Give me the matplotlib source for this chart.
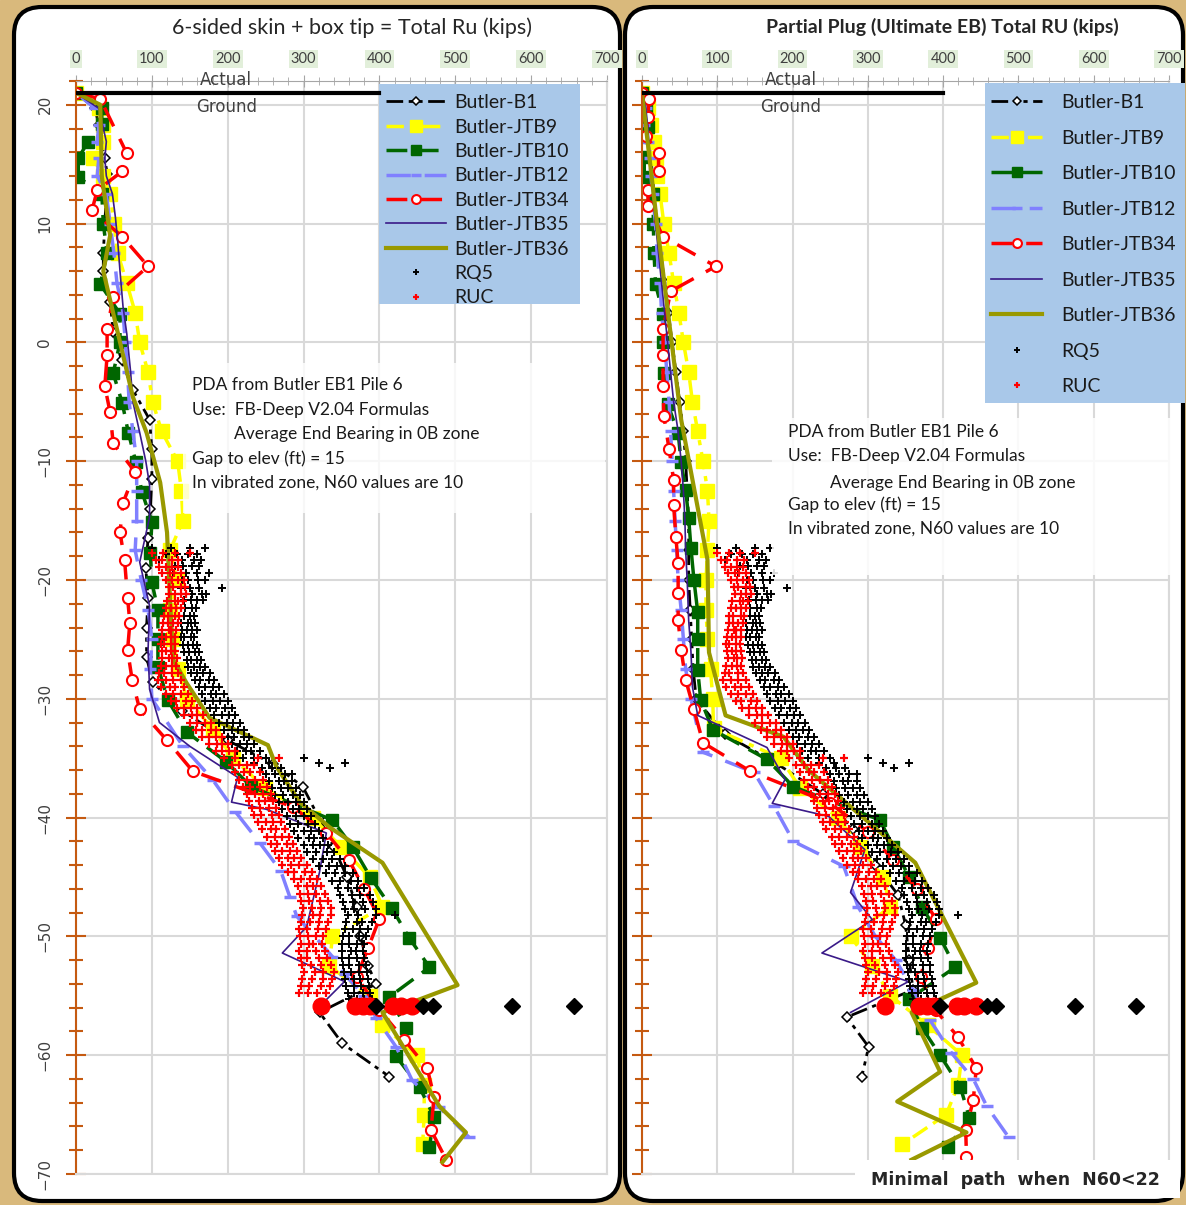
import matplotlib.pyplot as plt
from matplotlib.patches import FancyBboxPatch, Rectangle
from matplotlib.ticker import MultipleLocator

# ---- values: (elevation ft, total Ru kips) ----
ground = [(21, 0), (21, 400)]

# left panel: 6-sided skin + box tip
b1_left = [(21, 0), (19.7, 25), (18.3, 30), (16.9, 33), (15.5, 38), (14.2, 41), (12.5, 40), (10, 38),
           (7.5, 36), (6, 36), (3.4, 45), (0.9, 49), (-1.5, 60), (-4, 75), (-6.5, 97), (-9, 100),
           (-11.5, 100), (-14, 98), (-16.5, 95), (-19, 92), (-21.5, 95), (-24, 93), (-26.5, 93),
           (-28.6, 101), (-31, 140), (-33.5, 200), (-35.5, 260), (-37.4, 299), (-40, 320), (-42.5, 340),
           (-45, 357), (-47.5, 370), (-50, 375), (-52.5, 385), (-54, 396), (-56.4, 321), (-59, 351),
           (-61.8, 413)]
jtb9_left = [(21, 0), (19.7, 30), (18.3, 36), (16.9, 36), (15.5, 23), (14, 35), (12.5, 45), (10, 50),
             (7.5, 55), (5, 67), (2.5, 78), (0, 84), (-2.5, 95), (-5, 101), (-7.5, 113), (-10, 134),
             (-12.5, 139), (-15, 141), (-17.5, 124), (-20, 133), (-22.5, 124), (-25, 128), (-27.5, 135),
             (-30, 146), (-32.5, 180), (-35, 207), (-37.5, 249), (-40, 312), (-42.5, 350), (-45, 387),
             (-47.5, 404), (-50, 338), (-52.5, 334), (-55, 387), (-57.5, 404), (-60, 449), (-62.5, 459),
             (-65, 459), (-67.5, 457)]
jtb10_left = [(21, 0), (19.7, 34), (18.4, 34), (16.9, 16), (15.5, 3), (13.9, 3), (12.5, 34), (10, 36),
              (7.5, 41), (4.9, 32), (2.4, 58), (0, 58), (-2.6, 49), (-5.1, 61), (-7.6, 69), (-10.1, 79),
              (-12.6, 87), (-15.1, 100), (-17.7, 98), (-20.2, 100), (-22.5, 108), (-25, 108), (-27.3, 108),
              (-30.1, 121), (-32.8, 146), (-35.3, 198), (-37.4, 231), (-40.2, 338), (-42.5, 365),
              (-45.1, 389), (-47.6, 416), (-50.1, 439), (-52.6, 466), (-55.1, 413), (-57.7, 435),
              (-60.1, 422), (-62.7, 453), (-65.2, 472), (-67.7, 466)]
jtb12_left = [(21, 0), (19.7, 25), (18.3, 30), (16.9, 28), (15.5, 30), (14, 28), (12.5, 40), (10, 45),
              (7.5, 50), (5, 54), (2.5, 62), (0, 65), (-2.5, 68), (-5, 70), (-7.5, 75), (-10, 80),
              (-12.5, 80), (-15, 80), (-17.5, 78), (-20, 86), (-22.5, 95), (-25, 100), (-27.5, 98),
              (-30, 100), (-34, 141), (-36.8, 180), (-39.5, 210), (-42.1, 242), (-44.5, 270), (-46.7, 282),
              (-48.3, 291), (-51.7, 338), (-53.2, 354), (-55, 380), (-56.9, 396), (-59.3, 422),
              (-62.1, 443), (-64.4, 479), (-66.9, 518)]
jtb34_left = [(21, 0), (20.5, 32), (15.9, 67), (14.4, 61), (12.8, 28), (11.1, 21), (8.9, 61), (6.4, 95),
              (3.8, 49), (1.1, 41), (-1.1, 41), (-3.7, 38), (-5.9, 45), (-8.5, 49), (-10.9, 78),
              (-13.5, 62), (-16, 58), (-18.3, 64), (-21.5, 68), (-23.6, 71), (-25.9, 68), (-28.4, 74),
              (-30.9, 84), (-33.5, 120), (-36.1, 154), (-39.1, 286), (-41.3, 330), (-43.6, 360), (-46, 380),
              (-48.5, 400), (-51, 385), (-53.4, 370), (-56.2, 400), (-58.7, 433), (-61.1, 463),
              (-63.5, 472), (-66.3, 468), (-68.8, 488)]
jtb35_left = [(21, 0), (19.7, 30), (18.3, 35), (16.9, 40), (15.5, 38), (14, 40), (12.5, 48), (10.5, 52),
              (8.5, 55), (6, 58), (3, 62), (0.7, 67), (-2.5, 72), (-5, 75), (-7.6, 84), (-10, 92), (-12, 97),
              (-14.7, 97), (-18.5, 84), (-22.2, 97), (-25.9, 95), (-29.2, 97), (-32, 110), (-34, 150),
              (-36.6, 213), (-38.7, 205), (-39.3, 251), (-41.3, 330), (-44.6, 321), (-49.2, 304),
              (-51.4, 272), (-53.8, 354), (-55.9, 321)]
jtb36_left = [(21, 0), (20, 32), (14, 34), (9, 45), (6, 36), (-4.6, 75), (-7.6, 93), (-11.8, 111),
              (-16, 120), (-21.7, 124), (-26.7, 128), (-28.7, 146), (-31.6, 176), (-33.9, 253),
              (-35.7, 264), (-38.7, 295), (-40.8, 334), (-43.8, 404), (-54.1, 503), (-55.3, 453),
              (-56.4, 404), (-64.3, 479), (-66.5, 514), (-69, 483)]

# right panel: partial plug (ultimate end bearing)
b1_right = [(21, 0), (19.7, 5), (18.3, 8), (16.9, 10), (15.5, 12), (14, 14), (12.5, 16), (10, 20),
            (7.5, 25), (5, 30), (2.5, 35), (0, 40), (-2.5, 45), (-5, 50), (-7.5, 55), (-10, 58),
            (-12.5, 60), (-15, 62), (-17.5, 62), (-20, 62), (-22.5, 64), (-25, 66), (-27.5, 68),
            (-30, 72), (-33, 110), (-35.5, 180), (-38, 240), (-41, 280), (-44, 310), (-46.5, 340),
            (-49, 350), (-52, 355), (-54.5, 360), (-56.8, 272), (-59.3, 301), (-61.8, 292)]
jtb9_right = [(21, 0), (19.7, 8), (18.3, 12), (16.9, 16), (15.5, 18), (14, 20), (12.5, 24), (10, 29),
              (7.5, 36), (5, 42), (2.5, 49), (0, 55), (-2.5, 62), (-5, 67), (-7.5, 74), (-10, 81),
              (-12.5, 87), (-15, 89), (-17.5, 87), (-20, 85), (-22.5, 85), (-25, 87), (-27.5, 91),
              (-30, 94), (-32.5, 95), (-35, 184), (-37.5, 210), (-40, 260), (-42.5, 290), (-45, 320),
              (-47.5, 330), (-50, 277), (-52.5, 306), (-55, 330), (-57.5, 380), (-60, 425), (-62.5, 420),
              (-65, 404), (-67.5, 346)]
jtb10_right = [(21, 0), (19.7, 5), (18.1, 8), (15.6, 3), (13.9, 3), (12.5, 15), (10, 15), (7.5, 16),
               (4.9, 18), (2.4, 28), (0, 28), (-2.6, 29), (-5.2, 34), (-7.6, 48), (-10.1, 52), (-12.4, 58),
               (-14.8, 62), (-17.3, 65), (-20, 69), (-22.7, 74), (-25, 74), (-27.6, 74), (-30.1, 78),
               (-32.6, 94), (-35.1, 166), (-37.4, 201), (-40.2, 316), (-42.5, 334), (-45, 355),
               (-47.5, 372), (-50.1, 396), (-52.6, 416), (-55.3, 354), (-57.7, 372), (-60, 396),
               (-62.7, 423), (-65.3, 435), (-67.7, 407)]
jtb12_right = [(21, 0), (19.7, 5), (18.3, 3), (16.9, 8), (15.5, 10), (14, 12), (12.5, 14), (10, 18),
               (7.5, 20), (5, 24), (2.5, 26), (0, 30), (-2.5, 33), (-5, 36), (-7.5, 38), (-10, 40),
               (-12.5, 42), (-15, 44), (-17.5, 46), (-20, 48), (-22.5, 52), (-25, 55), (-27.5, 58),
               (-30, 65), (-34.5, 81), (-36.2, 149), (-39, 175), (-42, 201), (-44.1, 268), (-47.5, 287),
               (-50, 310), (-52, 337), (-54.5, 360), (-57, 382), (-59.8, 411), (-62, 440), (-64.3, 458),
               (-66.9, 487)]
jtb34_right = [(21, 0), (20.5, 9), (19, 8), (17.4, 5), (15.9, 22), (14.4, 22), (12.8, 8), (11.5, 8),
               (8.9, 28), (6.4, 98), (4.3, 38), (1.1, 28), (-1.1, 28), (-3.7, 28), (-6.2, 29), (-9, 36),
               (-11.6, 42), (-13.7, 42), (-16.4, 45), (-18.6, 48), (-21.1, 48), (-23.4, 48), (-25.9, 52),
               (-28.4, 58), (-30.9, 69), (-33.7, 81), (-36.1, 144), (-38.8, 250), (-41.2, 300),
               (-43.6, 334), (-46, 365), (-48.5, 390), (-51, 380), (-53.4, 370), (-56.2, 390),
               (-58.5, 420), (-61.1, 444), (-63.8, 440), (-66.3, 430), (-68.6, 431)]
jtb35_right = [(21, 0), (19.7, 5), (18, 8), (16, 10), (14, 12), (12, 15), (10, 18), (7.5, 22), (5, 26),
               (2.5, 30), (0, 34), (-2.5, 38), (-5, 42), (-7.5, 48), (-10, 52), (-12.5, 55), (-15, 57),
               (-17.5, 58), (-20, 60), (-23.4, 62), (-26, 65), (-29, 67), (-31.4, 74), (-34.1, 166),
               (-36.8, 190), (-38.8, 173), (-39.9, 248), (-42.7, 296), (-46.3, 277), (-48.6, 306),
               (-51.4, 239), (-53.8, 354), (-56.4, 277)]
jtb36_right = [(21, 0), (10, 20), (-6.5, 52), (-18.3, 87), (-26.1, 89), (-31.4, 111), (-33.2, 188),
               (-36, 221), (-43.8, 363), (-53.9, 444), (-56.4, 358), (-61.4, 396), (-63.9, 339),
               (-66.5, 431), (-68.8, 358)]

# PDA readings (same in both panels): elevation, Ru values read across the band at that elevation
rq5_rows = [(-17.3, [100, 125, 150, 170]), (-17.8, [118, 133, 147, 160]), (-18.3, [110, 140, 155, 165]),
            (-18.8, [130, 141, 153, 162]), (-19.4, [128, 145, 160, 175]), (-20.0, [140, 148, 161, 170]),
            (-20.7, [138, 150, 162, 192]), (-21.2, [145, 153, 166, 172]), (-21.7, [142, 152, 160, 168]),
            (-22.4, [138, 144, 153, 158]), (-23.0, [136, 143, 150, 156]), (-23.6, [138, 147, 151, 157]),
            (-24.2, [140, 146, 153, 159]), (-24.8, [138, 143, 151, 156]), (-25.5, [141, 148, 154, 160]),
            (-26.1, [143, 149, 157, 162]), (-26.7, [146, 152, 159, 165]), (-27.3, [148, 155, 164, 170]),
            (-27.8, [152, 160, 168, 176]), (-28.4, [157, 164, 175, 182]), (-29.0, [162, 170, 180, 188]),
            (-29.6, [166, 178, 185, 195]), (-30.2, [170, 180, 190, 200]), (-30.8, [176, 184, 197, 205]),
            (-31.4, [182, 192, 202, 210]), (-32.0, [188, 199, 207, 216]), (-32.6, [195, 205, 214, 222]),
            (-33.2, [200, 208, 221, 228]), (-33.8, [206, 216, 226, 235]), (-34.4, [212, 224, 231, 242]),
            (-35.0, [220, 235, 250, 300]), (-35.4, [235, 255, 320, 354]), (-35.8, [245, 258, 270, 335]),
            (-36.3, [250, 262, 275, 285]), (-36.9, [255, 267, 274, 285]), (-37.5, [258, 270, 280, 290]),
            (-38.1, [262, 273, 286, 295]), (-38.7, [268, 280, 290, 300]), (-39.3, [272, 286, 294, 305]),
            (-39.9, [278, 290, 300, 310]), (-40.5, [282, 292, 306, 315]), (-41.1, [288, 300, 310, 320]),
            (-41.7, [292, 307, 314, 325]), (-42.3, [300, 312, 322, 332]), (-42.9, [305, 316, 331, 340]),
            (-43.5, [312, 325, 338, 348]), (-44.1, [320, 334, 344, 355]), (-44.7, [330, 342, 355, 365]),
            (-45.3, [338, 348, 363, 372]), (-45.9, [345, 358, 370, 380]), (-46.5, [348, 364, 374, 388]),
            (-47.1, [352, 365, 378, 392]), (-47.7, [355, 366, 381, 395]), (-48.2, [358, 372, 395, 420]),
            (-48.8, [356, 370, 377, 390]), (-49.4, [355, 365, 375, 385]), (-50.0, [352, 360, 373, 382]),
            (-50.6, [350, 360, 370, 380]), (-51.2, [350, 362, 369, 378]), (-51.8, [350, 360, 370, 380]),
            (-52.4, [352, 360, 373, 382]), (-53.0, [353, 363, 373, 383]), (-53.6, [355, 367, 374, 385]),
            (-54.2, [356, 366, 376, 386]), (-54.8, [358, 366, 379, 388]), (-55.3, [360, 370, 380, 390])]
ruc_rows = [(-17.7, [100, 115, 130, 150]), (-18.3, [105, 113, 126, 135]), (-18.9, [110, 118, 126, 134]),
            (-19.4, [114, 124, 129, 138]), (-20.0, [118, 126, 134, 142]), (-20.6, [122, 128, 138, 144]),
            (-21.2, [123, 131, 138, 145]), (-21.8, [120, 130, 134, 141]), (-22.4, [118, 125, 132, 138]),
            (-23.0, [116, 121, 131, 136]), (-23.6, [115, 121, 128, 134]), (-24.2, [114, 122, 125, 132]),
            (-24.8, [113, 119, 125, 131]), (-25.4, [112, 116, 125, 130]), (-26.0, [113, 119, 125, 131]),
            (-26.6, [114, 122, 126, 133]), (-27.2, [112, 119, 126, 132]), (-27.8, [110, 116, 127, 134]),
            (-28.4, [108, 118, 128, 138]), (-29.0, [112, 124, 131, 142]), (-29.6, [118, 128, 138, 148]),
            (-30.2, [125, 132, 145, 153]), (-30.8, [133, 142, 152, 160]), (-31.4, [142, 153, 159, 168]),
            (-32.0, [150, 160, 170, 178]), (-32.6, [158, 166, 178, 185]), (-33.2, [166, 175, 185, 193]),
            (-33.8, [175, 186, 192, 200]), (-34.4, [184, 193, 202, 210]), (-35.0, [195, 210, 240, 268]),
            (-35.6, [205, 215, 225, 235]), (-36.2, [210, 222, 229, 242]), (-36.8, [215, 226, 236, 247]),
            (-37.4, [220, 229, 243, 252]), (-38.0, [225, 236, 247, 257]), (-38.6, [228, 241, 249, 260]),
            (-39.2, [232, 243, 254, 264]), (-39.8, [235, 244, 258, 268]), (-40.4, [240, 250, 260, 270]),
            (-41.0, [245, 257, 264, 275]), (-41.6, [252, 262, 272, 281]), (-42.2, [257, 265, 278, 286]),
            (-42.8, [262, 272, 282, 291]), (-43.4, [267, 280, 287, 297]), (-44.0, [272, 283, 294, 304]),
            (-44.6, [280, 288, 302, 311]), (-45.2, [287, 297, 308, 318]), (-45.8, [292, 304, 312, 323]),
            (-46.4, [295, 306, 317, 328]), (-47.0, [297, 307, 321, 332]), (-47.6, [299, 311, 323, 336]),
            (-48.2, [298, 312, 321, 336]), (-48.8, [296, 308, 320, 332]), (-49.4, [294, 304, 319, 330]),
            (-50.0, [295, 306, 316, 326]), (-50.6, [296, 307, 313, 324]), (-51.2, [294, 305, 316, 328]),
            (-51.8, [296, 305, 320, 331]), (-52.4, [298, 310, 323, 336]), (-53.0, [300, 315, 326, 340]),
            (-53.6, [298, 311, 325, 338]), (-54.2, [296, 307, 323, 335]), (-54.8, [294, 306, 318, 330])]
# restrike readings at pile tip
tip_elev = -55.9
rq5_tip = [396, 458, 470, 575, 656]
ruc_tip = [323, 368, 378, 388, 418, 428, 443]

WOOD = '#d9b97c'
GRID = '#d9d9d9'
ORANGE = '#c55a11'
TXT = '#404040'

styles = {
    'Butler-B1': dict(color='black', ls=(0, (6, 2, 1.5, 2, 1.5, 2)), lw=2, marker='D', ms=5,
                      mfc='white', mec='black', mew=1.1),
    'Butler-JTB9': dict(color='#ffff00', ls=(0, (5, 2, 1.5, 2)), lw=2.5, marker='s', ms=10,
                        mfc='#ffff00', mec='#ffff00'),
    'Butler-JTB10': dict(color='#006600', ls=(0, (6, 3)), lw=2.5, marker='s', ms=9,
                         mfc='#006600', mec='#006600'),
    'Butler-JTB12': dict(color='#8080ff', ls=(0, (7, 4)), lw=2.5, marker='_', ms=9, mew=2.5),
    'Butler-JTB34': dict(color='#ff0000', ls=(0, (6, 4)), lw=2.5, marker='o', ms=8,
                         mfc='white', mec='#ff0000', mew=1.5),
    'Butler-JTB35': dict(color='#3a1a88', ls='-', lw=1.2),
    'Butler-JTB36': dict(color='#999900', ls='-', lw=3),
}

fig = plt.figure(figsize=(11.86, 12.05), dpi=100)
bg = fig.add_axes([0, 0, 1, 1], zorder=0)
bg.set_xlim(0, 1186)
bg.set_ylim(1205, 0)
bg.axis('off')
bg.add_patch(Rectangle((0, 0), 1186, 1205, color=WOOD))
bg.add_patch(FancyBboxPatch((14, 7), 606, 1194, boxstyle='round,pad=0,rounding_size=28',
                            fc='white', ec='black', lw=3))
bg.add_patch(FancyBboxPatch((625, 7), 558, 1194, boxstyle='round,pad=0,rounding_size=28',
                            fc='white', ec='black', lw=3))
bg.text(352, 28, '6-sided skin + box tip = Total Ru (kips)', ha='center', va='center',
        fontsize=15.5, family='Lato', color='#262626')
bg.text(942, 27, 'Partial Plug (Ultimate EB) Total RU (kips)', ha='center', va='center',
        fontsize=14, family='Lato', weight='bold', color='#262626')

axes_h = 1093 / 1205
axL = fig.add_axes([76 / 1186, 1 - 1174 / 1205, 531 / 1186, axes_h], zorder=2)
axR = fig.add_axes([642 / 1186, 1 - 1174 / 1205, 527 / 1186, axes_h], zorder=2)

# overlay for the note under the right chart
fg = fig.add_axes([0, 0, 1, 1], zorder=5)
fg.set_xlim(0, 1186)
fg.set_ylim(1205, 0)
fg.axis('off')
fg.add_patch(Rectangle((855, 1160), 325, 38, fc='white', ec='none'))
fg.text(1015, 1180, 'Minimal  path  when  N60<22', ha='center', va='center', fontsize=12.5,
        family='DejaVu Sans', weight='bold', color='#262626')

panels = [
    (axL, [b1_left, jtb9_left, jtb10_left, jtb12_left, jtb34_left, jtb35_left, jtb36_left]),
    (axR, [b1_right, jtb9_right, jtb10_right, jtb12_right, jtb34_right, jtb35_right, jtb36_right]),
]

rq5_e = [e for e, vals in rq5_rows for v in vals]
rq5_v = [v for e, vals in rq5_rows for v in vals]
ruc_e = [e for e, vals in ruc_rows for v in vals]
ruc_v = [v for e, vals in ruc_rows for v in vals]

for ax, series in panels:
    ax.set_facecolor('white')
    ax.set_xlim(0, 700)
    ax.set_ylim(-70, 22)
    ax.xaxis.tick_top()
    ax.set_xticks(range(0, 701, 100))
    ax.xaxis.set_minor_locator(MultipleLocator(20))
    ax.set_yticks(range(-70, 21, 10))
    ax.yaxis.set_minor_locator(MultipleLocator(2))
    ax.grid(True, which='major', color=GRID, lw=1.5)
    ax.set_axisbelow(True)
    for side in ['right', 'bottom']:
        ax.spines[side].set_color(GRID)
        ax.spines[side].set_linewidth(1.5)
    ax.spines['top'].set_color('#a6a6a6')
    ax.spines['left'].set_color(ORANGE)
    ax.spines['left'].set_linewidth(1.5)
    ax.tick_params(axis='x', which='major', direction='inout', length=8, color='#a6a6a6',
                   labelsize=10.5, labelcolor=TXT, pad=7)
    ax.tick_params(axis='x', which='minor', direction='inout', length=6, color='#a6a6a6')
    ax.tick_params(axis='y', which='major', direction='inout', length=14, width=1.5, color=ORANGE,
                   labelsize=11, labelcolor=TXT, pad=10)
    ax.tick_params(axis='y', which='minor', direction='inout', length=10, width=1.5, color=ORANGE)
    for t in ax.get_xticklabels():
        t.set_family('Lato')
        t.set_bbox(dict(fc='#e2efda', ec='none', pad=1.5))
    plt.setp(ax.get_yticklabels(), rotation=90, va='center')

    for pts, (name, st) in zip(series, styles.items()):
        ax.plot([p[1] for p in pts], [p[0] for p in pts], label=name, **st)
    ax.plot(rq5_v, rq5_e, ls='none', marker='+', ms=6, mew=1.4, color='black', label='RQ5')
    ax.plot(ruc_v, ruc_e, ls='none', marker='+', ms=6, mew=1.6, color='#ff0000', label='RUC')
    ax.plot(ruc_tip, [tip_elev] * len(ruc_tip), ls='none', marker='o', ms=12, color='#ff0000')
    ax.plot(rq5_tip, [tip_elev] * len(rq5_tip), ls='none', marker='D', ms=8, color='black')

    ax.plot([p[1] for p in ground], [p[0] for p in ground], color='black', lw=3, zorder=4)
    ax.text(198, 22.1, 'Actual', ha='center', va='center', fontsize=12, color=TXT, zorder=6)
    ax.text(198, 19.8, 'Ground', ha='center', va='center', fontsize=12, color=TXT, zorder=6)

axR.set_yticklabels([])

# legends on blue panels
axL.add_patch(Rectangle((400, 3.25), 264, 18.52, fc='#a9c8e9', ec='none', zorder=3, clip_on=False))
axR.add_patch(Rectangle((455, -5.09), 266, 26.94, fc='#a9c8e9', ec='none', zorder=3, clip_on=False))
legL = axL.legend(loc='upper left', bbox_to_anchor=(396, 21.7), bbox_transform=axL.transData,
                  frameon=False, prop={'family': 'Lato', 'size': 14}, borderpad=0, labelspacing=0.38,
                  handlelength=3.1, handletextpad=0.42, markerscale=0.8)
legR = axR.legend(loc='upper left', bbox_to_anchor=(451, 21.7), bbox_transform=axR.transData,
                  frameon=False, prop={'family': 'Lato', 'size': 14}, borderpad=0, labelspacing=0.95,
                  handlelength=2.6, handletextpad=1.0, markerscale=0.8)
for leg in (legL, legR):
    leg.set_zorder(7)
    for t in leg.get_texts():
        t.set_color('#1a1a1a')

# explanatory notes with a whitish box behind
axL.add_patch(Rectangle((141, -14.35), 557, 12.65, fc='white', ec='none', alpha=0.8, zorder=5))
notes_left = [(153, -3.57, 'PDA from Butler EB1 Pile 6'), (153, -5.68, 'Use:  FB-Deep V2.04 Formulas'),
              (208, -7.70, 'Average End Bearing in 0B zone'), (153, -9.80, 'Gap to elev (ft) = 15'),
              (153, -11.82, 'In vibrated zone, N60 values are 10')]
for x, y, s in notes_left:
    axL.text(x, y, s, ha='left', va='center', fontsize=12.5, family='Lato', color='#1a1a1a', zorder=6)
axR.add_patch(Rectangle((173, -19.6), 530, 13.25, fc='white', ec='none', alpha=0.85, zorder=5,
                        clip_on=False))
notes_right = [(194, -7.53, 'PDA from Butler EB1 Pile 6'), (194, -9.55, 'Use:  FB-Deep V2.04 Formulas'),
               (250, -11.82, 'Average End Bearing in 0B zone'), (194, -13.68, 'Gap to elev (ft) = 15'),
               (194, -15.70, 'In vibrated zone, N60 values are 10')]
for x, y, s in notes_right:
    axR.text(x, y, s, ha='left', va='center', fontsize=12.5, family='Lato', color='#1a1a1a', zorder=6)

fig.savefig('out.png', dpi=100)
